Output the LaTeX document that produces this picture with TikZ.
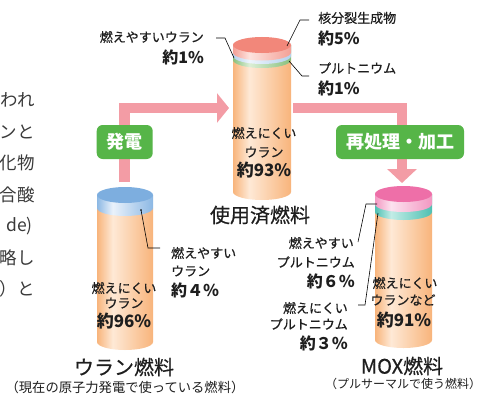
\documentclass[tikz,border=0pt]{standalone}
\usepackage{fontspec}
\setmainfont{Noto Sans CJK JP}
\newfontfamily\jpmid{Noto Sans CJK JP}[FakeBold=0.5]
\usetikzlibrary{arrows.meta}

\definecolor{ink}{HTML}{1E1E1E}
\definecolor{textgray}{HTML}{3A3A3A}
\definecolor{flowpink}{HTML}{F39CA5}
\definecolor{stagegreen}{HTML}{56B548}
\definecolor{bodyedge}{HTML}{F8B47B}
\definecolor{bodyshine}{HTML}{FEE9D6}
\definecolor{bluetop}{HTML}{7DAEDF}
\definecolor{blueedge}{HTML}{8CB8E4}
\definecolor{blueshine}{HTML}{EAF2FB}
\definecolor{redtop}{HTML}{F2877A}
\definecolor{rededge}{HTML}{F4A096}
\definecolor{redshine}{HTML}{FDE3DE}
\definecolor{thinblue}{HTML}{B3D1EE}
\definecolor{thinblueshine}{HTML}{EEF5FC}
\definecolor{thingreen}{HTML}{88BF7C}
\definecolor{thingreenshine}{HTML}{DCEFD6}
\definecolor{pinktop}{HTML}{EE6FA8}
\definecolor{pinkedge}{HTML}{F398C2}
\definecolor{pinkshine}{HTML}{FCE2EF}
\definecolor{tealedge}{HTML}{4EC0B2}
\definecolor{tealshine}{HTML}{C2ECE6}

\colorlet{edge}{bodyedge}
\colorlet{shine}{bodyshine}
\pgfdeclarehorizontalshading[edge,shine]{glossy}{100bp}{color(0bp)=(edge); color(25bp)=(edge); color(39bp)=(shine); color(75bp)=(edge); color(100bp)=(edge)}

\begin{document}
\begin{tikzpicture}[x=1pt, y=-1pt,
    glow/.code 2 args={\colorlet{edge}{#1}\colorlet{shine}{#2}},
    layer/.style 2 args={glow={#1}{#2}, shading=glossy},
    flow/.style={draw=flowpink, line width=10.5pt},
    stage/.style={fill=stagegreen, rounded corners=6pt, text=white, font=\bfseries\fontsize{18}{18}\selectfont, minimum height=34pt, inner xsep=10pt, inner ysep=0pt},
    note/.style={font=\jpmid\fontsize{13}{13}\selectfont, text=ink, inner sep=0pt},
    pct/.style={font=\bfseries\fontsize{16}{16}\selectfont, text=ink, inner sep=0pt},
    bigpct/.style={font=\bfseries\fontsize{17}{17}\selectfont, text=ink, inner sep=0pt},
    title/.style={font=\jpmid\fontsize{20}{20}\selectfont, text=ink, inner sep=0pt},
    sub/.style={font=\fontsize{13.3}{13.3}\selectfont, text=ink, inner sep=0pt},
    para/.style={font=\fontsize{17.5}{17.5}\selectfont, text=textgray, inner sep=0pt, anchor=east},
    ptr/.style={draw=black, line width=0.6pt}]
  \useasboundingbox[fill=white] (0,0) rectangle (486,396);

  % text running in from the left column
  \node[para] (p1) at (35,100) {われ};
  \node[para] (p2) at (35,132) {ンと};
  \node[para] (p3) at (35,163) {化物};
  \node[para] (p4) at (35,195) {合酸};
  \node[para] (p5) at (33,226) {de)};
  \node[para] (p6) at (35,258) {略し};
  \node[para] (p7) at (35,289) {）と};

  % flow arrows
  \coordinate (fresh-top) at (124.7,182);
  \coordinate (spent-in) at (229,108);
  \coordinate (spent-out) at (293,108);
  \coordinate (mox-top) at (402,183);
  \draw[flow, -{Triangle[width=29pt,length=12pt]}] (fresh-top) |- (spent-in);
  \draw[flow, -{Triangle[width=29pt,length=14pt]}] (spent-out) -| (mox-top);
  \node[stage] (gen) at (124.7,142) {発電};
  \node[stage] (repro) at (400,142) {再処理・加工};

  % uranium fuel
  \shade[layer={bodyedge}{bodyshine}] (97,208) -- (97,342) arc[start angle=180, end angle=0, x radius=28, y radius=8] -- (153,208) -- cycle;
  \shade[layer={blueedge}{blueshine}] (97,195) -- (97,208) arc[start angle=180, end angle=0, x radius=28, y radius=8] -- (153,195) -- cycle;
  \fill[bluetop] (125,195) ellipse[x radius=28, y radius=8];
  \node[note] (u-hard) at (124,288) {燃えにくい};
  \node[note] (u-hard2) at (124,303) {ウラン};
  \node[bigpct] (u-hard3) at (124,321) {約96\%};
  \node[note, anchor=west] (u-easy) at (171,253) {燃えやすい};
  \node[note, anchor=west] (u-easy2) at (171,271) {ウラン};
  \node[pct, anchor=west] (u-easy3) at (171,290) {約４％};
  \coordinate (u-band) at (141,210);
  \fill (u-band) circle[radius=0.9];
  \draw[ptr] (u-band) -- (148,248) -- (160,248);
  \node[title] (fresh) at (124,367) {ウラン燃料};
  \node[sub] (fresh-sub) at (125,387) {（現在の原子力発電で使っている燃料）};

  % spent fuel
  \shade[layer={bodyedge}{bodyshine}] (233,60) -- (233,192) arc[start angle=180, end angle=0, x radius=29, y radius=8] -- (291,60) -- cycle;
  \shade[layer={thingreen}{thingreenshine}] (233,45) -- (233,60) arc[start angle=180, end angle=0, x radius=29, y radius=8] -- (291,45) -- cycle;
  \shade[layer={thinblue}{thinblueshine}] (233,45) -- (233,56) arc[start angle=180, end angle=0, x radius=29, y radius=8] -- (291,45) -- cycle;
  \shade[layer={rededge}{redshine}] (233,45) -- (233,52.5) arc[start angle=180, end angle=0, x radius=29, y radius=8] -- (291,45) -- cycle;
  \fill[redtop] (262,45) ellipse[x radius=29, y radius=8];
  \node[note] (s-hard) at (264,133) {燃えにくい};
  \node[note] (s-hard2) at (264,152) {ウラン};
  \node[bigpct] (s-hard3) at (264,170) {約93\%};
  \node[note, anchor=east] (s-easy) at (204,37) {燃えやすいウラン};
  \node[pct, anchor=east] (s-easy2) at (204,57) {約1\%};
  \node[note, anchor=west] (s-fp) at (318,18) {核分裂生成物};
  \node[pct, anchor=west] (s-fp2) at (318,38) {約5\%};
  \node[note, anchor=west] (s-pu) at (318,68) {プルトニウム};
  \node[pct, anchor=west] (s-pu2) at (318,88) {約1\%};
  \coordinate (s-easy-pt) at (234,58);
  \coordinate (s-fp-pt) at (287,46);
  \coordinate (s-pu-pt) at (289,61);
  \draw[ptr] (s-easy-pt) -- (225,38) -- (216,38);
  \draw[ptr] (s-fp-pt) -- (300,20) -- (309,20);
  \draw[ptr] (s-pu-pt) -- (302,76) -- (309,76);
  \node[title] (spent) at (260,215) {使用済燃料};

  % MOX fuel
  \shade[layer={bodyedge}{bodyshine}] (375,212) -- (375,340) arc[start angle=180, end angle=0, x radius=28.5, y radius=8] -- (432,212) -- cycle;
  \shade[layer={tealedge}{tealshine}] (375,194) -- (375,212) arc[start angle=180, end angle=0, x radius=28.5, y radius=8] -- (432,194) -- cycle;
  \shade[layer={pinkedge}{pinkshine}] (375,194) -- (375,204) arc[start angle=180, end angle=0, x radius=28.5, y radius=8] -- (432,194) -- cycle;
  \fill[pinktop] (403.5,194) ellipse[x radius=28.5, y radius=8];
  \node[note] (m-hard) at (405,283) {燃えにくい};
  \node[note] (m-hard2) at (403,300) {ウランなど};
  \node[bigpct] (m-hard3) at (404,320) {約91\%};
  \node[note, anchor=east] (m-easy) at (354,243) {燃えやすい};
  \node[note, anchor=east] (m-easy2) at (355,262) {プルトニウム};
  \node[pct, anchor=east] (m-easy3) at (355,281) {約６％};
  \node[note, anchor=east] (m-pu) at (348,308) {燃えにくい};
  \node[note, anchor=east] (m-pu2) at (348,324) {プルトニウム};
  \node[pct, anchor=east] (m-pu3) at (348,343) {約３％};
  \coordinate (m-easy-pt) at (377,204);
  \coordinate (m-pu-pt) at (378,213);
  \draw[ptr] (m-easy-pt) -- (366,204) -- (358,242);
  \draw[ptr] (m-pu-pt) -- (365,305) -- (358,305);
  \node[title] (mox) at (402,366) {MOX燃料};
  \node[sub, font=\fontsize{12}{12}\selectfont] (mox-sub) at (403,384) {（プルサーマルで使う燃料）};
\end{tikzpicture}
\end{document}
